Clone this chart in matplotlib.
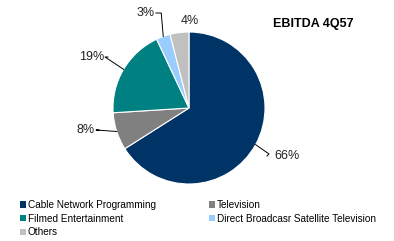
import numpy as np
import matplotlib
matplotlib.use('Agg')
import matplotlib.pyplot as plt
from matplotlib.patches import Patch

plt.rcParams['font.family'] = ['Liberation Sans', 'DejaVu Sans']

# data
segments = ['Cable Network Programming', 'Television', 'Filmed Entertainment',
	'Direct Broadcasr Satellite Television', 'Others']
shares = [66, 8, 19, 3, 4]
pct_labels = ['66%', '8%', '19%', '3%', '4%']
colors = ['#003366', '#808080', '#008080', '#99ccff', '#c0c0c0']
title = 'EBITDA 4Q57'

W, H = 394, 241
fig = plt.figure(figsize=(W / 100, H / 100), dpi=100)
ax = fig.add_axes([0, 0, 1, 1])

# pie centre and radius in pixels (y measured from the top)
cx, cy, rad = 189, H - 108, 76

wedges, _ = ax.pie(shares, colors=colors, startangle=90, counterclock=False,
	center=(cx, cy), radius=rad,
	wedgeprops=dict(edgecolor='white', linewidth=0.8))
ax.set_xlim(0, W)
ax.set_ylim(0, H)
ax.axis('off')

# label positions (pixels from top-left), alignment, leader line or not
label_pos = [(274, 156, 'left', True), (95, 130, 'right', True),
	(104, 57, 'right', True), (155, 13, 'right', True), (190, 21, 'center', False)]

for w, txt, (tx, ty, ha, lead) in zip(wedges, pct_labels, label_pos):
	mid = np.deg2rad((w.theta1 + w.theta2) / 2.0)
	ex = cx + rad * np.cos(mid)
	ey = cy + rad * np.sin(mid)
	ty = H - ty
	if lead:
		if txt == '3%':
			ax.plot([ex, ex - 2, tx + 3, tx + 1], [ey, ty, ty, ty], color='black', lw=0.7)
		else:
			endx = tx - 5 if ha == 'left' else tx + 1
			ax.plot([ex, endx, endx + (3 if ha == 'right' else -2)],
				[ey, ty + (0 if ha == 'right' else 2), ty], color='black', lw=0.7)
	ax.text(tx, ty, txt, ha=ha, va='center', fontsize=9, color='#222222')

ax.text(313, H - 24, title, ha='center', va='center', fontsize=9, fontweight='bold')

# legend: column-first order
order = [0, 2, 4, 1, 3]
handles = [Patch(facecolor=colors[i], edgecolor='none') for i in order]
fig.legend(handles, [segments[i] for i in order], ncol=2,
	loc='upper left', bbox_to_anchor=(20 / W, 1 - 200 / H),
	frameon=False, fontsize=7.2, handlelength=0.6, handleheight=0.6,
	handletextpad=0.2, columnspacing=5.3, labelspacing=0.36,
	borderaxespad=0, borderpad=0)

fig.savefig('out.png', dpi=100)
plt.close(fig)
